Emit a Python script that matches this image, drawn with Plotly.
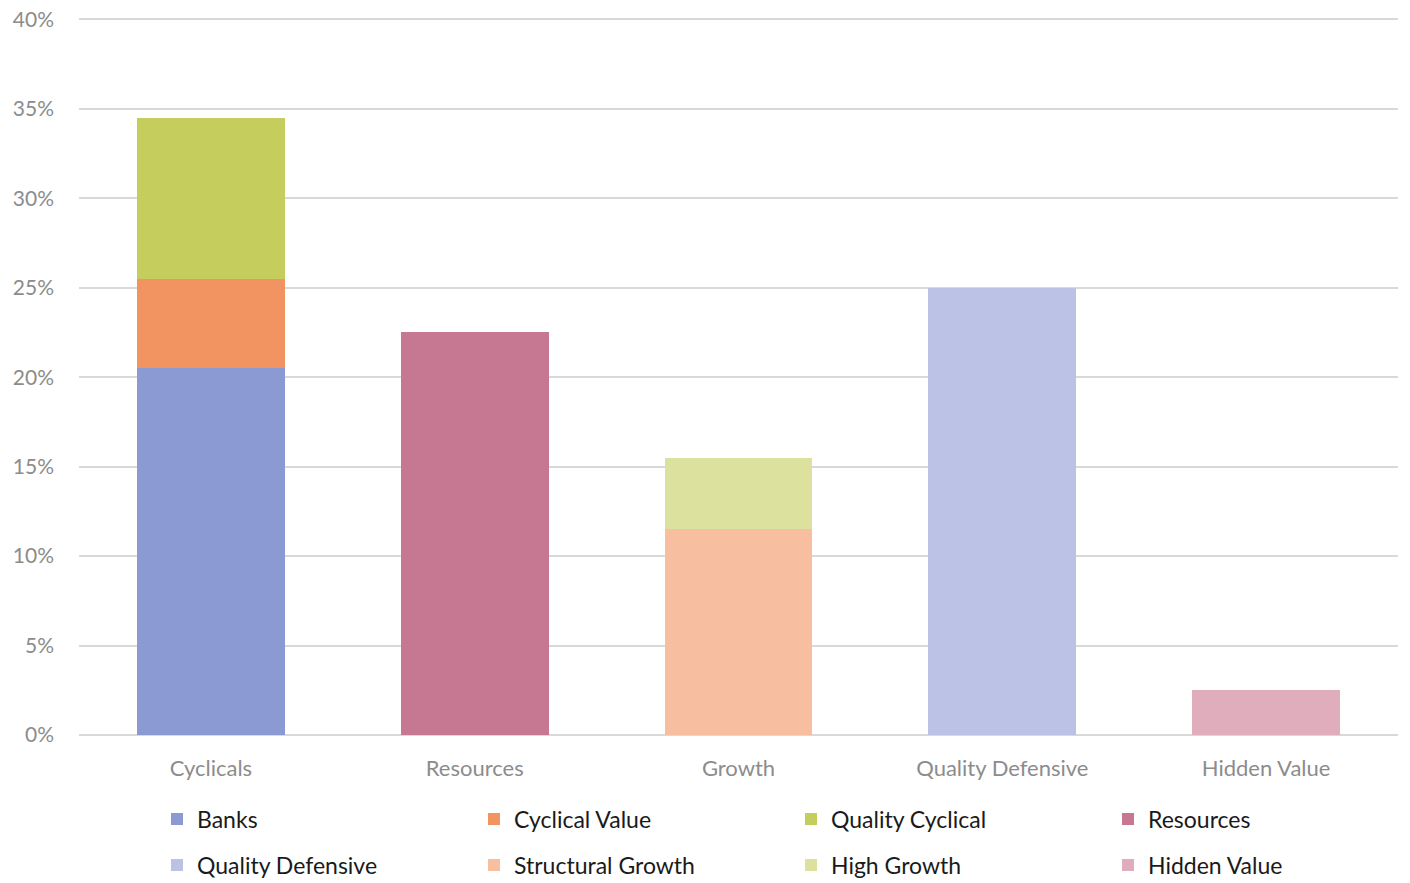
import plotly.graph_objects as go

categories = ["Cyclicals", "Resources", "Growth", "Quality Defensive", "Hidden Value"]

series_names = ["Banks", "Cyclical Value", "Quality Cyclical", "Resources",
                "Quality Defensive", "Structural Growth", "High Growth", "Hidden Value"]
banks = [0.205, None, None, None, None]
cyclical_value = [0.05, None, None, None, None]
quality_cyclical = [0.09, None, None, None, None]
resources = [None, 0.225, None, None, None]
quality_defensive = [None, None, None, 0.25, None]
structural_growth = [None, None, 0.115, None, None]
high_growth = [None, None, 0.04, None, None]
hidden_value = [None, None, None, None, 0.025]

series_values = [banks, cyclical_value, quality_cyclical, resources,
                 quality_defensive, structural_growth, high_growth, hidden_value]
colors = ["#8C9AD4", "#F29462", "#C5CE5D", "#C67791",
          "#BBC2E5", "#F8BEA0", "#DDE19E", "#DFADBC"]

y_tickvals = [0, 0.05, 0.10, 0.15, 0.20, 0.25, 0.30, 0.35, 0.40]
y_ticktext = ["0%", "5%", "10%", "15%", "20%", "25%", "30%", "35%", "40%"]

FONT = "Lato"

fig = go.Figure()
for i, (name, vals, col) in enumerate(zip(series_names, series_values, colors)):
    fig.add_trace(go.Bar(
        x=categories, y=vals, name=name, marker_color=col,
        marker_line_width=0,
        legend="legend" if i < 4 else "legend2",
        hoverinfo="skip",
    ))

legend_common = dict(
    orientation="h", xref="container", yref="container",
    xanchor="left", yanchor="middle",
    font=dict(family=FONT, size=23, color="#1A1A1A"),
    entrywidth=272, entrywidthmode="pixels",
    traceorder="normal", bgcolor="rgba(0,0,0,0)",
    itemclick=False, itemdoubleclick=False,
)

fig.update_layout(
    width=1410, height=883,
    barmode="stack", bargap=0.44,
    paper_bgcolor="white", plot_bgcolor="white",
    margin=dict(l=79, r=12, t=18, b=148, autoexpand=False),
    font=dict(family=FONT),
    legend=dict(x=157/1410, y=1 - 819/883, **legend_common),
    legend2=dict(x=157/1410, y=1 - 865/883, **legend_common),
    xaxis=dict(
        showgrid=False, showline=False, ticks="",
        tickfont=dict(family=FONT, size=22, color="#8C8C8C"),
        ticklabelstandoff=18, automargin=False,
    ),
    yaxis=dict(
        range=[0, 0.4008], tickvals=y_tickvals, ticktext=y_ticktext,
        showgrid=True, gridcolor="#D9D9D9", gridwidth=2,
        zeroline=True, zerolinecolor="#D9D9D9", zerolinewidth=2,
        showline=False, ticks="",
        tickfont=dict(family=FONT, size=21, color="#8C8C8C"),
        ticklabelstandoff=24, automargin=False,
    ),
)

fig.write_html("out.html")
